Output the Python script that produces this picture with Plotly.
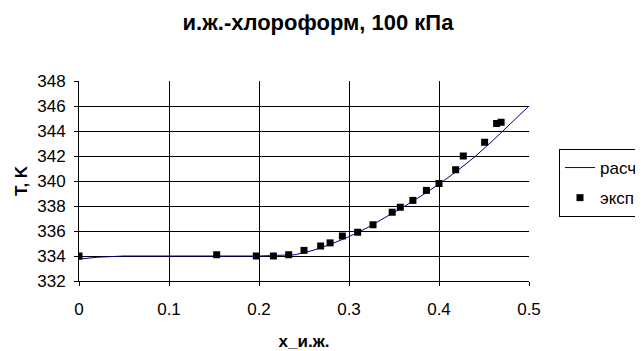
import plotly.graph_objects as go

# Calculated curve (расч)
calc_x = [0.0, 0.02, 0.05, 0.10, 0.15, 0.20, 0.24, 0.26, 0.28, 0.30, 0.32, 0.34, 0.36, 0.38, 0.40, 0.42, 0.44, 0.46, 0.48, 0.50]
calc_T = [333.75, 333.9, 334.0, 334.0, 334.0, 334.0, 334.1, 334.45, 334.95, 335.55, 336.25, 337.05, 337.9, 338.8, 339.75, 340.8, 341.95, 343.25, 344.6, 346.0]

# Experimental points (эксп)
exp_x = [0.0, 0.153, 0.197, 0.216, 0.233, 0.250, 0.2685, 0.279, 0.2926, 0.3096, 0.3267, 0.348, 0.357, 0.371, 0.386, 0.400, 0.4185, 0.427, 0.4507, 0.464, 0.469]
exp_T = [334.0, 334.1, 334.0, 334.0, 334.1, 334.45, 334.8, 335.05, 335.6, 335.9, 336.5, 337.5, 337.9, 338.45, 339.25, 339.8, 340.9, 342.0, 343.1, 344.6, 344.7]

x_ticks = [0, 0.1, 0.2, 0.3, 0.4, 0.5]
x_tick_labels = ["0", "0.1", "0.2", "0.3", "0.4", "0.5"]
y_ticks = [332, 334, 336, 338, 340, 342, 344, 346, 348]

FONT = "Liberation Sans, Arial, sans-serif"
OFF = 8  # page body margin
W, H = 643 - OFF, 351 - OFF

fig = go.Figure()
fig.add_trace(go.Scatter(x=calc_x, y=calc_T, mode="lines", name="расч", legendgroup="a",
                         line=dict(color="#000080", width=1)))
fig.add_trace(go.Scatter(x=exp_x, y=exp_T, mode="markers", name="эксп", legendgroup="b",
                         marker=dict(symbol="square", size=7, color="black")))

fig.update_layout(
    width=W, height=H,
    margin=dict(l=79 - OFF, r=643 - 529, t=81 - OFF, b=351 - 281, autoexpand=False),
    paper_bgcolor="white", plot_bgcolor="white",
    font=dict(family=FONT, size=17, color="black"),
    title=dict(text="<b>и.ж.-хлороформ, 100 кПа</b>", x=(318 - OFF) / W, xanchor="center",
               y=1 - (22 - OFF) / H, yanchor="middle", font=dict(size=22)),
    showlegend=True,
    legend=dict(x=(559 - 79) / 450, y=(281 - 149) / 200, xanchor="left", yanchor="top",
                bordercolor="black", borderwidth=1, bgcolor="white",
                font=dict(size=17), tracegroupgap=5, itemwidth=30),
)
fig.update_xaxes(range=[0, 0.5], tickvals=x_ticks, ticktext=x_tick_labels,
                 showgrid=True, gridcolor="black", gridwidth=1,
                 showline=True, linecolor="black", linewidth=1,
                 ticks="outside", ticklen=4, tickcolor="black", zeroline=False,
                 ticklabelstandoff=9, automargin=False,
                 title=dict(text="<b>x_и.ж.</b>", standoff=17, font=dict(size=17)))
fig.update_yaxes(range=[332, 348], tickvals=y_ticks,
                 showgrid=True, gridcolor="black", gridwidth=1,
                 showline=True, linecolor="black", linewidth=1,
                 ticks="outside", ticklen=4, tickcolor="black", zeroline=False,
                 ticklabelstandoff=5, automargin=False,
                 title=dict(text="<b>T, K</b>", standoff=5, font=dict(size=17)))

fig.write_html("out.html")
